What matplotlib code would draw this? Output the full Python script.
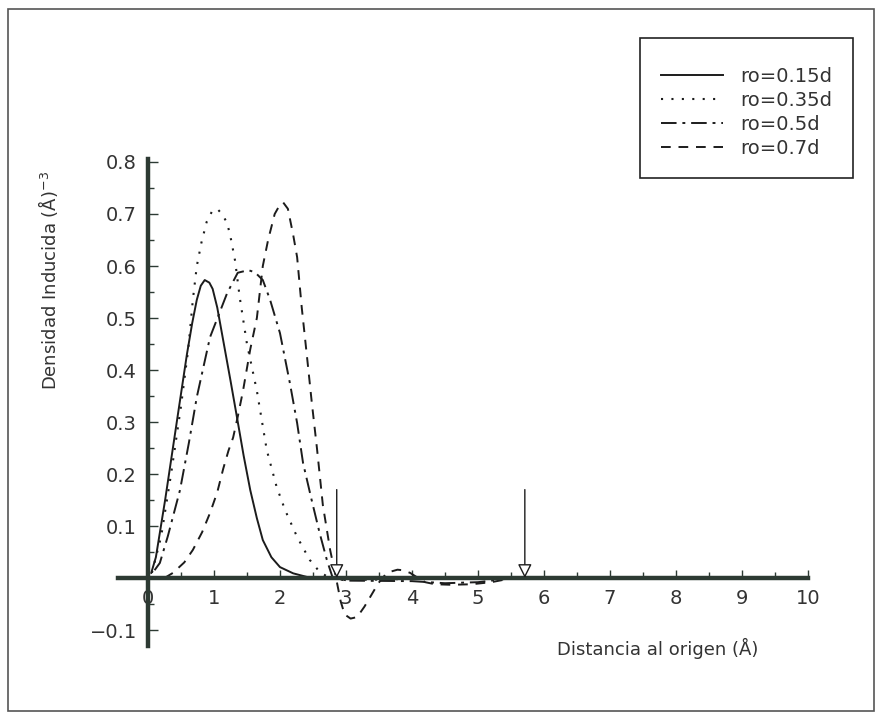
import numpy as np
import matplotlib
matplotlib.use("Agg")
import matplotlib.pyplot as plt
from matplotlib.patches import Rectangle
from matplotlib.ticker import FixedLocator, FixedFormatter, MultipleLocator

plt.rcParams['font.family'] = ['DejaVu Sans']

# curves, x in Angstrom, y in (A)^-3
x_015 = [0.05, 0.12, 0.26, 0.46, 0.59, 0.67, 0.74, 0.8, 0.86, 0.93, 0.98, 1.05, 1.12, 1.25,
         1.35, 1.45, 1.55, 1.65, 1.74, 1.87, 2.0, 2.2, 2.41, 2.7, 3.5, 10.0]
y_015 = [0.01, 0.04, 0.15, 0.32, 0.43, 0.49, 0.535, 0.562, 0.573, 0.568, 0.556, 0.52, 0.471, 0.38,
         0.308, 0.235, 0.169, 0.115, 0.073, 0.04, 0.021, 0.009, 0.002, 0.0, 0.0, 0.0]

x_035 = [0.06, 0.2, 0.35, 0.5, 0.61, 0.68, 0.74, 0.81, 0.89, 0.97, 1.05, 1.12, 1.2, 1.26,
         1.32, 1.39, 1.5, 1.65, 1.8, 1.95, 2.08, 2.26, 2.45, 2.6, 2.75, 3.0, 3.5, 4.5, 10.0]
y_035 = [0.01, 0.08, 0.2, 0.33, 0.44, 0.535, 0.6, 0.645, 0.685, 0.705, 0.71, 0.7, 0.683, 0.65,
         0.61, 0.54, 0.45, 0.36, 0.246, 0.175, 0.13, 0.079, 0.035, 0.012, 0.0, -0.004, -0.003, 0.0, 0.0]

x_05 = [0.1, 0.18, 0.3, 0.485, 0.62, 0.74, 0.94, 1.2, 1.36, 1.52, 1.62, 1.74, 1.85, 2.0,
        2.15, 2.26, 2.35, 2.48, 2.6, 2.71, 2.8, 3.0, 4.0, 4.5, 5.0, 5.4, 6.0, 10.0]
y_05 = [0.015, 0.029, 0.08, 0.169, 0.26, 0.348, 0.463, 0.548, 0.587, 0.592, 0.588, 0.573, 0.535, 0.471,
        0.375, 0.298, 0.221, 0.15, 0.087, 0.035, 0.0, -0.005, -0.006, -0.01, -0.008, -0.002, 0.0, 0.0]

x_07 = [0.25, 0.38, 0.55, 0.68, 0.82, 0.94, 1.05, 1.14, 1.22, 1.29, 1.36, 1.44, 1.55, 1.65,
        1.74, 1.82, 1.92, 2.0, 2.05, 2.12, 2.2, 2.26, 2.33, 2.41, 2.48, 2.56, 2.65, 2.76, 2.85,
        2.92, 2.98, 3.07, 3.17, 3.28, 3.36, 3.49, 3.6, 3.67, 3.78, 3.86, 3.97, 4.07, 4.2, 4.35,
        4.6, 4.9, 5.2, 5.45, 5.7, 10.0]
y_07 = [0.0, 0.01, 0.03, 0.054, 0.088, 0.125, 0.165, 0.21, 0.245, 0.27, 0.31, 0.36, 0.44, 0.5,
        0.6, 0.65, 0.7, 0.718, 0.722, 0.71, 0.66, 0.617, 0.52, 0.425, 0.34, 0.25, 0.14, 0.054, 0.0,
        -0.045, -0.07, -0.078, -0.075, -0.055, -0.038, -0.01, 0.007, 0.012, 0.016, 0.015, 0.01, 0.002, -0.008, -0.012,
        -0.013, -0.012, -0.008, -0.002, 0.0, 0.0]

labels = ['ro=0.15d', 'ro=0.35d', 'ro=0.5d', 'ro=0.7d']

arrow_x = [2.86, 5.71]
arrow_top = 0.17

x_ticks = list(range(0, 11))
x_ticklabels = [str(v) for v in x_ticks]
y_ticks = [-0.1, 0.1, 0.2, 0.3, 0.4, 0.5, 0.6, 0.7, 0.8]
y_ticklabels = ['\u22120.1', '0.1', '0.2', '0.3', '0.4', '0.5', '0.6', '0.7', '0.8']

ink = '#1c1c1c'
axis_col = '#2d3a33'

fig = plt.figure(figsize=(8.77, 7.18), dpi=100)
ax = fig.add_axes([0.1341, 0.1008, 0.7872, 0.6772])

ax.plot(x_015, y_015, color=ink, lw=1.4, ls='-', label=labels[0])
ax.plot(x_035, y_035, color=ink, lw=1.5, ls=(0, (1, 4)), label=labels[1])
ax.plot(x_05, y_05, color=ink, lw=1.4, ls=(0, (8, 3, 1.5, 3)), label=labels[2])
ax.plot(x_07, y_07, color=ink, lw=1.4, ls=(0, (5, 4)), label=labels[3])

for xa in arrow_x:
    ax.annotate('', xy=(xa, 0), xytext=(xa, arrow_top),
                arrowprops=dict(arrowstyle='-|>,head_length=0.6,head_width=0.3',
                                fc='white', ec=ink, lw=1.0, mutation_scale=14,
                                shrinkA=0, shrinkB=0))

ax.set_xlim(-0.46, 10.0)
ax.set_ylim(-0.13, 0.805)

for s in ['top', 'right']:
    ax.spines[s].set_visible(False)
ax.spines['left'].set_position(('data', 0))
ax.spines['bottom'].set_position(('data', 0))
for s in ['left', 'bottom']:
    ax.spines[s].set_linewidth(3.2)
    ax.spines[s].set_color(axis_col)

ax.xaxis.set_major_locator(FixedLocator(x_ticks))
ax.xaxis.set_major_formatter(FixedFormatter(x_ticklabels))
ax.xaxis.set_minor_locator(MultipleLocator(0.5))
ax.yaxis.set_major_locator(FixedLocator(y_ticks))
ax.yaxis.set_major_formatter(FixedFormatter(y_ticklabels))
ax.yaxis.set_minor_locator(MultipleLocator(0.05))

ax.tick_params(axis='x', which='major', direction='in', length=6, width=1, color=axis_col,
               pad=8, labelsize=14, labelcolor='#333333')
ax.tick_params(axis='x', which='minor', direction='in', length=4, width=1, color=axis_col)
ax.tick_params(axis='y', which='major', direction='in', length=7, width=1, color=axis_col,
               pad=8, labelsize=14, labelcolor='#333333')
ax.tick_params(axis='y', which='minor', direction='in', length=4, width=1, color=axis_col)

leg = ax.legend(loc='upper right', bbox_to_anchor=(853 / 877, 1 - 38 / 718),
                bbox_transform=fig.transFigure, borderaxespad=0, frameon=True,
                fancybox=False, edgecolor='#222222', framealpha=1, fontsize=14,
                handlelength=3.2, handletextpad=0.9, labelspacing=0.25, borderpad=1.05,
                title=' ', title_fontsize=3)
leg.get_frame().set_linewidth(1.2)
for t in leg.get_texts():
    t.set_color('#333333')

fig.text(48 / 877, 1 - 281 / 718, r'Densidad Inducida (Å)$^{-3}$', rotation=90,
         ha='center', va='center', fontsize=13, color='#333333')
fig.text(557 / 877, 1 - 648 / 718, 'Distancia al origen (Å)', ha='left', va='center',
         fontsize=13, color='#333333')

# outer frame of the scanned figure
fig.patches.append(Rectangle((8 / 877, 1 - 711 / 718), 866 / 877, 702 / 718,
                             transform=fig.transFigure, fill=False, ec='#555555', lw=1.2))

fig.savefig('out.png', dpi=100)
